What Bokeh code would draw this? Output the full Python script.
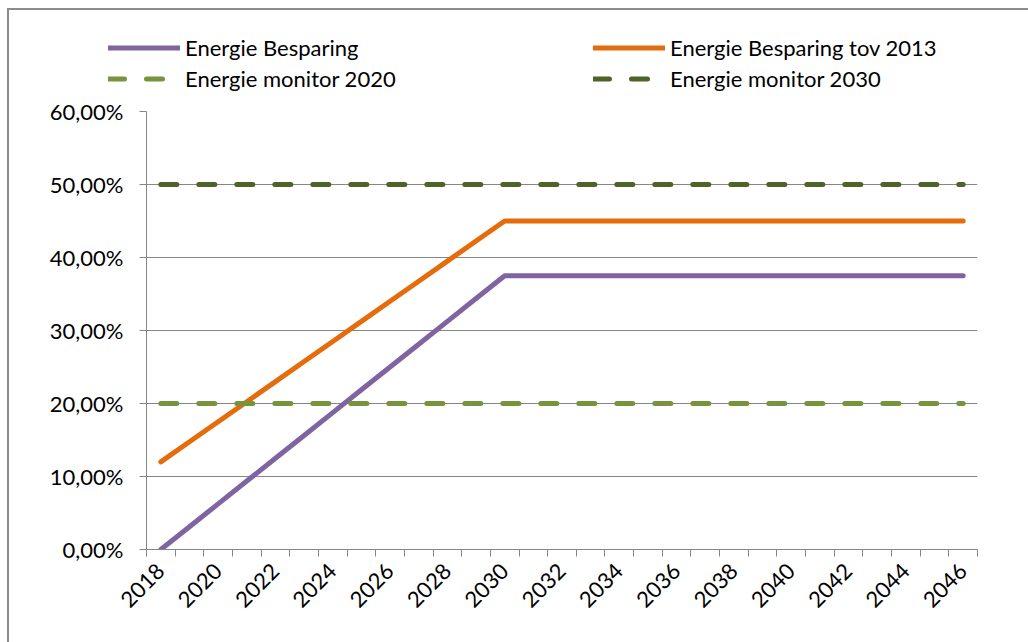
import math
from bokeh.plotting import figure
from bokeh.layouts import column
from bokeh.models import Range1d, FixedTicker, Legend, LegendItem
from bokeh.embed import file_html
from bokeh.resources import INLINE

years = list(range(2018, 2047))
besparing = [0.0, 3.125, 6.25, 9.375, 12.5, 15.625, 18.75, 21.875, 25.0, 28.125, 31.25, 34.375, 37.5,
             37.5, 37.5, 37.5, 37.5, 37.5, 37.5, 37.5, 37.5, 37.5, 37.5, 37.5, 37.5, 37.5, 37.5, 37.5, 37.5]
besparing_2013 = [12.0, 14.75, 17.5, 20.25, 23.0, 25.75, 28.5, 31.25, 34.0, 36.75, 39.5, 42.25, 45.0,
                  45.0, 45.0, 45.0, 45.0, 45.0, 45.0, 45.0, 45.0, 45.0, 45.0, 45.0, 45.0, 45.0, 45.0, 45.0, 45.0]
monitor_2020 = [20.0] * 29
monitor_2030 = [50.0] * 29
yticks = [0, 10, 20, 30, 40, 50, 60]
ylabels = ["0,00%", "10,00%", "20,00%", "30,00%", "40,00%", "50,00%", "60,00%"]
series_names = ["Energie Besparing", "Energie Besparing tov 2013", "Energie monitor 2020", "Energie monitor 2030"]
series_colors = ["#8064A2", "#E46C0A", "#77933C", "#4F6228"]
series_dash = ["solid", "solid", "16 22", "16 22"]
series_values = [besparing, besparing_2013, monitor_2020, monitor_2030]

FONT = "Lato"
FS = "22px"
GRAY = "#868686"
LW = 5
W = 1019

# main chart
p = figure(width=W, height=547,
           x_range=Range1d(years[0] - 0.5, years[-1] + 0.5),
           y_range=Range1d(yticks[0], yticks[-1]),
           output_backend="svg", toolbar_location=None,
           min_border_left=137, min_border_right=51, min_border_top=16, min_border_bottom=93)
p.frame_align = False
p.outline_line_color = None
p.background_fill_color = "white"
p.border_fill_color = "white"

p.xgrid.visible = False
p.ygrid.ticker = FixedTicker(ticks=yticks)
p.ygrid.grid_line_color = GRAY
p.ygrid.grid_line_width = 1

p.yaxis.ticker = FixedTicker(ticks=yticks)
p.yaxis.major_label_overrides = {t: l for t, l in zip(yticks, ylabels)}
p.yaxis.axis_line_color = GRAY
p.yaxis.major_tick_line_color = GRAY
p.yaxis.major_tick_out = 7
p.yaxis.major_tick_in = 0
p.yaxis.minor_tick_line_color = None
p.yaxis.major_label_standoff = 16
p.yaxis.major_label_text_font = FONT
p.yaxis.major_label_text_font_size = FS
p.yaxis.major_label_text_color = "black"

xt = years[::2]
p.xaxis.ticker = FixedTicker(ticks=xt, minor_ticks=[y - 0.5 for y in years] + [years[-1] + 0.5])
p.xaxis.major_label_overrides = {y: str(y) for y in xt}
p.xaxis.axis_line_color = GRAY
p.xaxis.major_tick_line_color = None
p.xaxis.major_tick_out = 0
p.xaxis.major_tick_in = 0
p.xaxis.minor_tick_line_color = GRAY
p.xaxis.minor_tick_out = 7
p.xaxis.minor_tick_in = 0
p.xaxis.major_label_orientation = math.pi / 4
p.xaxis.major_label_standoff = 11
p.xaxis.major_label_text_font = FONT
p.xaxis.major_label_text_font_size = FS
p.xaxis.major_label_text_color = "black"

for vals, col, dash in zip(series_values, series_colors, series_dash):
    p.line(years, vals, line_color=col, line_width=LW, line_cap="round", line_join="round", line_dash=dash)

# legend strip on top
pl = figure(width=W, height=85, x_range=Range1d(0, 1), y_range=Range1d(0, 1),
            output_backend="svg", toolbar_location=None,
            x_axis_location=None, y_axis_location=None, min_border=0)
pl.frame_align = False
pl.outline_line_color = None
pl.grid.visible = False
pl.border_fill_color = "white"
# legend sample lines (their data lie outside this strip's visible range)
leg_r = [pl.line([years[0], years[-1]], [vals[0], vals[-1]], line_color=col, line_width=LW,
                 line_cap="round", line_dash=dash)
         for vals, col, dash in zip(series_values, series_colors, series_dash)]

def make_legend(idx, loc):
    return Legend(items=[LegendItem(label=series_names[i], renderers=[leg_r[i]]) for i in idx],
                  location=loc, glyph_width=72, glyph_height=31, label_height=31,
                  spacing=0, padding=0, margin=0, label_standoff=5,
                  border_line_color=None, background_fill_alpha=0,
                  label_text_font=FONT, label_text_font_size=FS, label_text_color="black")

pl.add_layout(make_legend([0, 2], (99, 1)))
pl.add_layout(make_legend([1, 3], (584, 1)))

layout = column(pl, p, spacing=0,
                styles={"margin-left": "7px", "margin-top": "8px",
                        "border-left": "2px solid #8C8C8C", "border-top": "2px solid #8C8C8C"})

open("out.html", "w").write(file_html(layout, INLINE))
